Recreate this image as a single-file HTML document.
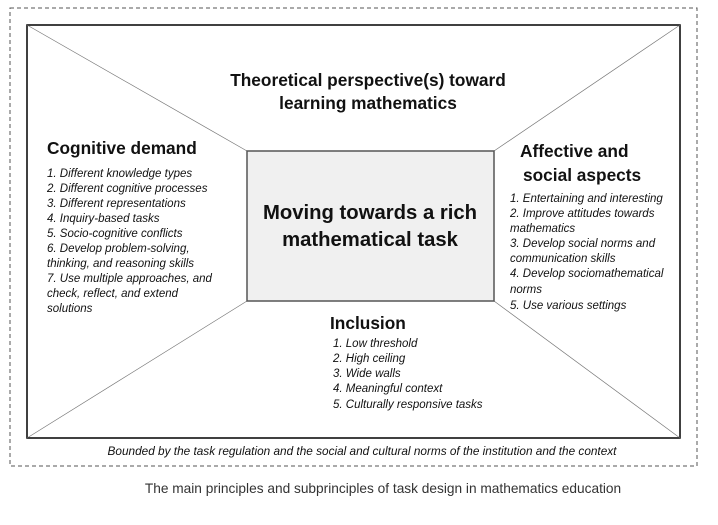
<!DOCTYPE html>
<html><head><meta charset="utf-8"><style>
html,body{margin:0;padding:0;background:#fff;width:718px;height:525px;overflow:hidden}
svg{display:block}
text{font-family:"Liberation Sans",sans-serif;fill:#111}
.h{font-weight:bold;font-size:17.3px}
.i{font-style:italic;font-size:11.5px}
</style></head><body>
<svg width="718" height="525" viewBox="0 0 718 525">
<rect x="10" y="8" width="687" height="458" fill="none" stroke="#555" stroke-width="1" stroke-dasharray="4,3"/>
<rect x="27" y="25" width="653" height="413" fill="none" stroke="#000" stroke-width="1.5"/>
<g stroke="#777" stroke-width="0.7">
<line x1="27" y1="25" x2="247" y2="151"/>
<line x1="680" y1="25" x2="494" y2="151"/>
<line x1="27" y1="438" x2="247" y2="301"/>
<line x1="680" y1="438" x2="494" y2="301"/>
</g>
<rect x="247" y="151" width="247" height="150" fill="#f0f0f0" stroke="#555" stroke-width="1.5"/>
<text x="370" y="219" text-anchor="middle" class="h" style="font-size:20.3px">Moving towards a rich</text>
<text x="370" y="246" text-anchor="middle" class="h" style="font-size:20.3px">mathematical task</text>
<text x="368" y="86" text-anchor="middle" class="h">Theoretical perspective(s) toward</text>
<text x="368" y="109" text-anchor="middle" class="h">learning mathematics</text>
<text x="47" y="154" class="h">Cognitive demand</text>
<g>
<text x="47" y="177" class="i">1. Different knowledge types</text>
<text x="47" y="192" class="i">2. Different cognitive processes</text>
<text x="47" y="207" class="i">3. Different representations</text>
<text x="47" y="222" class="i">4. Inquiry-based tasks</text>
<text x="47" y="237" class="i">5. Socio-cognitive conflicts</text>
<text x="47" y="252" class="i">6. Develop problem-solving,</text>
<text x="47" y="267" class="i">thinking, and reasoning skills</text>
<text x="47" y="282" class="i">7. Use multiple approaches, and</text>
<text x="47" y="297" class="i">check, reflect, and extend</text>
<text x="47" y="312" class="i">solutions</text>
</g>
<text x="520" y="157" class="h">Affective and</text>
<text x="523" y="181" class="h">social aspects</text>
<g>
<text x="510" y="202" class="i">1. Entertaining and interesting</text>
<text x="510" y="217" class="i">2. Improve attitudes towards</text>
<text x="510" y="232" class="i">mathematics</text>
<text x="510" y="247" class="i">3. Develop social norms and</text>
<text x="510" y="262" class="i">communication skills</text>
<text x="510" y="277" class="i">4. Develop sociomathematical</text>
<text x="510" y="293" class="i">norms</text>
<text x="510" y="309" class="i">5. Use various settings</text>
</g>
<text x="330" y="329" class="h">Inclusion</text>
<g>
<text x="333" y="347" class="i">1. Low threshold</text>
<text x="333" y="362" class="i">2. High ceiling</text>
<text x="333" y="377" class="i">3. Wide walls</text>
<text x="333" y="392" class="i">4. Meaningful context</text>
<text x="333" y="408" class="i">5. Culturally responsive tasks</text>
</g>
<text x="362" y="455" text-anchor="middle" class="i" style="font-size:11.8px">Bounded by the task regulation and the social and cultural norms of the institution and the context</text>
<text x="383" y="493" text-anchor="middle" style="font-size:13.7px;fill:#333">The main principles and subprinciples of task design in mathematics education</text>
</svg>
</body></html>
